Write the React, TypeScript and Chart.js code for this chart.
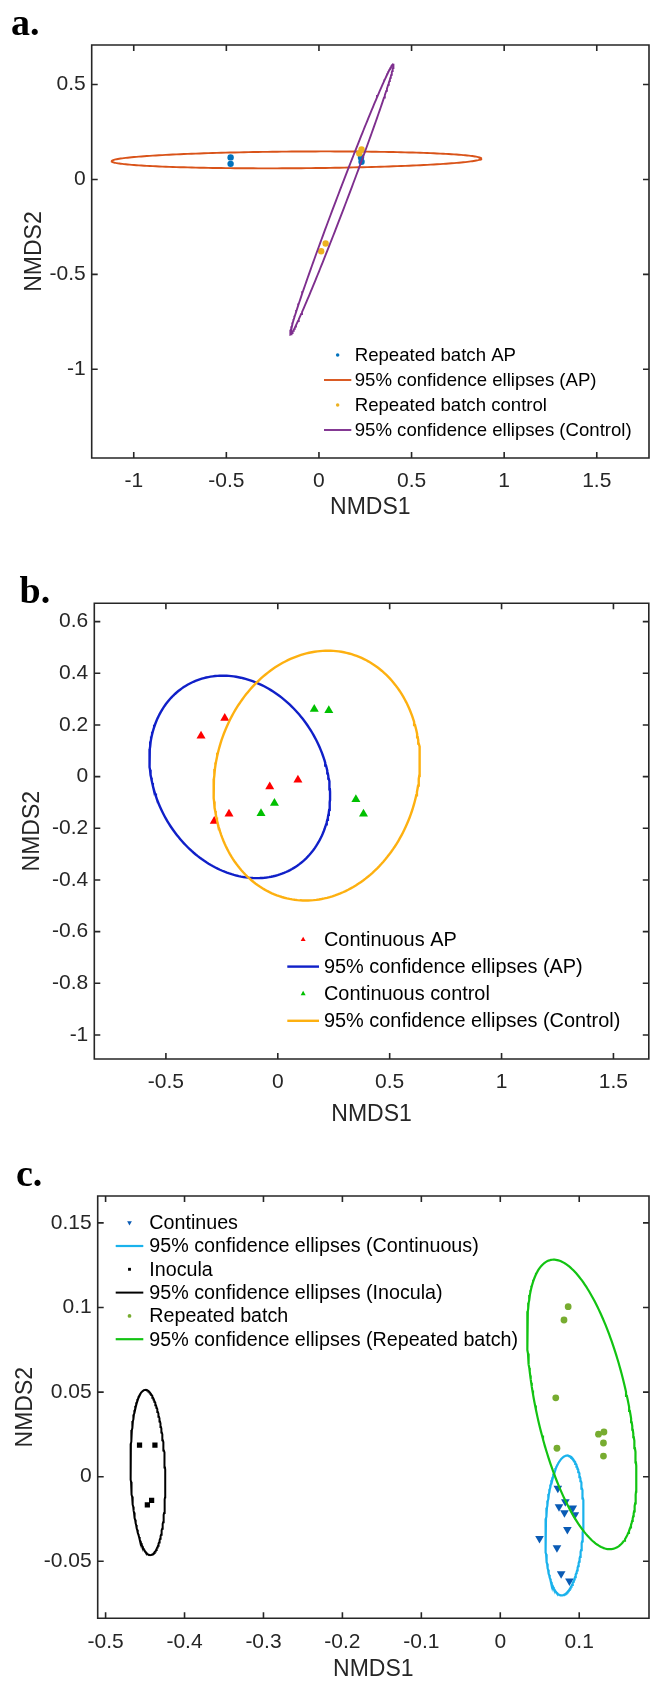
import React, { useEffect, useRef } from "react";
import { Chart, registerables } from "chart.js";

Chart.register(...registerables);

// ---------- Panel a: repeated batch ----------
const aApX = [-0.477, -0.477, 0.227, 0.23];
const aApY = [0.116, 0.082, 0.116, 0.093];
const aCtlX = [0.218, 0.23, 0.012, 0.036];
const aCtlY = [0.137, 0.158, -0.378, -0.337];
// ellipse: centre x, centre y, semi-major, semi-minor, angle (deg, data space)
const aApEllipse = [-0.1215, 0.103, 0.998, 0.044, 0.4];
const aCtlEllipse = [0.1235, -0.105, 0.766, 0.027, 68.7];
const aXTicks = [-1, -0.5, 0, 0.5, 1, 1.5];
const aYTicks = [-1, -0.5, 0, 0.5];
const aXRange = [-1.227, 1.782];
const aYRange = [-1.467, 0.708];
const aLabels = [
  "Repeated batch AP",
  "95% confidence ellipses (AP)",
  "Repeated batch control",
  "95% confidence ellipses (Control)",
];

// ---------- Panel b: continuous ----------
const bApX = [-0.237, -0.343, -0.036, 0.09, -0.218, -0.284];
const bApY = [0.226, 0.158, -0.039, -0.013, -0.144, -0.172];
const bCtlX = [0.163, 0.228, -0.015, -0.075, 0.349, 0.383];
const bCtlY = [0.261, 0.256, -0.103, -0.142, -0.088, -0.144];
const bApEllipse = [-0.17, -0.001, 0.434, 0.358, -40.5];
const bCtlEllipse = [0.174, 0.004, 0.4994, 0.4437, 56.9];
const bXTicks = [-0.5, 0, 0.5, 1, 1.5];
const bYTicks = [-1, -0.8, -0.6, -0.4, -0.2, 0, 0.2, 0.4, 0.6];
const bXRange = [-0.82, 1.658];
const bYRange = [-1.093, 0.671];
const bLabels = [
  "Continuous AP",
  "95% confidence ellipses (AP)",
  "Continuous control",
  "95% confidence ellipses (Control)",
];

// ---------- Panel c: all reactors ----------
const cContX = [0.0729, 0.0744, 0.0824, 0.0813, 0.0918, 0.0945, 0.085, 0.0497, 0.0718, 0.0771, 0.0876];
const cContY = [-0.0069, -0.0178, -0.0148, -0.0213, -0.0185, -0.0225, -0.0312, -0.0365, -0.042, -0.0573, -0.0617];
const cInocX = [-0.457, -0.4375, -0.4471, -0.4417];
const cInocY = [0.0187, 0.0187, -0.0167, -0.014];
const cRbX = [0.086, 0.0807, 0.0703, 0.0718, 0.1244, 0.1313, 0.1307, 0.1307];
const cRbY = [0.1005, 0.0926, 0.0466, 0.0168, 0.0251, 0.0264, 0.0199, 0.0122];
const cContEllipse = [0.0813, -0.0288, 0.04153, 0.02375, 82.7];
const cInocEllipse = [-0.4464, 0.0025, 0.04892, 0.02178, -85.5];
const cRbEllipse = [0.1032, 0.0427, 0.09668, 0.05255, -56.3];
const cXTicks = [-0.5, -0.4, -0.3, -0.2, -0.1, 0, 0.1];
const cYTicks = [-0.05, 0, 0.05, 0.1, 0.15];
const cXRange = [-0.51, 0.1884];
const cYRange = [-0.0837, 0.1659];
const cLabels = [
  "Continues",
  "95% confidence ellipses (Continuous)",
  "Inocula",
  "95% confidence ellipses (Inocula)",
  "Repeated batch",
  "95% confidence ellipses (Repeated batch)",
];

const SANS = '"Liberation Sans", Arial, Helvetica, sans-serif';
const SERIF = '"Liberation Serif", "Times New Roman", serif';
const AXIS_COLOR = "#262626";

function ellipsePoints(e: number[], n = 240) {
  const [cx, cy, a, b, deg] = e;
  const phi = (deg * Math.PI) / 180;
  const pts: { x: number; y: number }[] = [];
  for (let k = 0; k <= n; k++) {
    const t = (2 * Math.PI * k) / n;
    const ex = a * Math.cos(t);
    const ey = b * Math.sin(t);
    pts.push({
      x: cx + ex * Math.cos(phi) - ey * Math.sin(phi),
      y: cy + ex * Math.sin(phi) + ey * Math.cos(phi),
    });
  }
  return pts;
}

function pts(xs: number[], ys: number[]) {
  return xs.map((x, i) => ({ x, y: ys[i] }));
}

function markerSet(label: string, xs: number[], ys: number[], style: string, r: number, color: string, rot = 0) {
  return {
    label,
    data: pts(xs, ys),
    showLine: false,
    pointStyle: style,
    pointRadius: r,
    pointRotation: rot,
    pointBackgroundColor: color,
    pointBorderColor: color,
    pointBorderWidth: 0,
    backgroundColor: color,
    borderColor: color,
  };
}

function lineSet(label: string, e: number[], color: string, w: number) {
  return {
    label,
    data: ellipsePoints(e),
    showLine: true,
    pointRadius: 0,
    borderColor: color,
    backgroundColor: color,
    borderWidth: w,
    fill: false,
    tension: 0,
  };
}

const PANELS = [
  {
    canvasTop: 0,
    canvasH: 540,
    area: { l: 91.7, t: 45, r: 649, b: 458 },
    xScaleH: 70,
    xTitlePad: 11.1,
    yTitlePad: 25.1,
    xRange: aXRange,
    yRange: aYRange,
    xTicks: aXTicks,
    yTicks: aYTicks,
    letter: { text: "a.", x: 11, y: 35 },
    legend: { x0: 324, x1: 351.3, textX: 354.7, y0: 355, dy: 25, size: 18.6, mScale: 0.55 },
    datasets: [
      markerSet(aLabels[0], aApX, aApY, "circle", 3.2, "#0072BD"),
      lineSet(aLabels[1], aApEllipse, "#D95319", 1.9),
      markerSet(aLabels[2], aCtlX, aCtlY, "circle", 3.2, "#EDB120"),
      lineSet(aLabels[3], aCtlEllipse, "#7E2F8E", 1.9),
    ],
  },
  {
    canvasTop: 540,
    canvasH: 590,
    area: { l: 94.3, t: 63.3, r: 652.3, b: 519 },
    xScaleH: 70,
    xTitlePad: 4.8,
    yTitlePad: 23.5,
    xRange: bXRange,
    yRange: bYRange,
    xTicks: bXTicks,
    yTicks: bYTicks,
    letter: { text: "b.", x: 19.5, y: 63 },
    legend: { x0: 287.3, x1: 319, textX: 324, y0: 399.5, dy: 27.1, size: 19.9, mScale: 0.55 },
    datasets: [
      markerSet(bLabels[0], bApX, bApY, "triangle", 5.2, "#FF0000"),
      lineSet(bLabels[1], bApEllipse, "#1020C8", 2.4),
      markerSet(bLabels[2], bCtlX, bCtlY, "triangle", 5.2, "#00C000"),
      lineSet(bLabels[3], bCtlEllipse, "#FDB010", 2.4),
    ],
  },
  {
    canvasTop: 1130,
    canvasH: 551,
    area: { l: 97.7, t: 66, r: 652.3, b: 488.3 },
    xScaleH: 62.7,
    xTitlePad: 1.8,
    yTitlePad: 16,
    xRange: cXRange,
    yRange: cYRange,
    xTicks: cXTicks,
    yTicks: cYTicks,
    letter: { text: "c.", x: 16, y: 56 },
    legend: { x0: 115.7, x1: 143.3, textX: 149.3, y0: 92.7, dy: 23.3, size: 19.7, mScale: 0.55 },
    datasets: [
      markerSet(cLabels[0], cContX, cContY, "triangle", 5, "#0A5BB5", 180),
      lineSet(cLabels[1], cContEllipse, "#1AB2EC", 2.2),
      markerSet(cLabels[2], cInocX, cInocY, "rect", 3.7, "#000000"),
      lineSet(cLabels[3], cInocEllipse, "#000000", 2),
      markerSet(cLabels[4], cRbX, cRbY, "circle", 3.4, "#77AC30"),
      lineSet(cLabels[5], cRbEllipse, "#12C312", 2.2),
    ],
  },
];

function drawMarker(ctx: CanvasRenderingContext2D, style: string, x: number, y: number, r: number, rot: number) {
  ctx.beginPath();
  if (style === "circle") {
    ctx.arc(x, y, r, 0, Math.PI * 2);
  } else if (style === "rect") {
    const s = Math.SQRT1_2 * r;
    ctx.rect(x - s, y - s, 2 * s, 2 * s);
  } else {
    let a = (rot * Math.PI) / 180;
    ctx.moveTo(x + Math.sin(a) * r, y - Math.cos(a) * r);
    a += (2 * Math.PI) / 3;
    ctx.lineTo(x + Math.sin(a) * r, y - Math.cos(a) * r);
    a += (2 * Math.PI) / 3;
    ctx.lineTo(x + Math.sin(a) * r, y - Math.cos(a) * r);
    ctx.closePath();
  }
  ctx.fill();
}

const framePlugin = {
  id: "matlabFrame",
  afterDatasetsDraw(chart: any) {
    const { ctx, chartArea, scales } = chart;
    const { left, top, right, bottom } = chartArea;
    const xs = scales.x;
    const ys = scales.y;
    ctx.save();
    ctx.strokeStyle = AXIS_COLOR;
    ctx.lineWidth = 1.6;
    ctx.beginPath();
    ctx.rect(left, top, right - left, bottom - top);
    for (const t of xs.ticks) {
      const px = xs.getPixelForValue(t.value);
      ctx.moveTo(px, bottom);
      ctx.lineTo(px, bottom - 6);
      ctx.moveTo(px, top);
      ctx.lineTo(px, top + 6);
    }
    for (const t of ys.ticks) {
      const py = ys.getPixelForValue(t.value);
      ctx.moveTo(left, py);
      ctx.lineTo(left + 6, py);
      ctx.moveTo(right, py);
      ctx.lineTo(right - 6, py);
    }
    ctx.stroke();
    ctx.restore();
  },
};

const legendPlugin = {
  id: "nmdsLegend",
  afterDraw(chart: any, _args: any, opts: any) {
    const { ctx } = chart;
    const { x0, x1, textX, y0, dy, size, mScale } = opts;
    ctx.save();
    chart.data.datasets.forEach((ds: any, i: number) => {
      const y = y0 + i * dy;
      if (ds.showLine) {
        ctx.strokeStyle = ds.borderColor;
        ctx.lineWidth = ds.borderWidth;
        ctx.beginPath();
        ctx.moveTo(x0, y);
        ctx.lineTo(x1, y);
        ctx.stroke();
      } else {
        ctx.fillStyle = ds.pointBackgroundColor;
        drawMarker(ctx, ds.pointStyle, (x0 + x1) / 2, y, ds.pointRadius * mScale, ds.pointRotation || 0);
      }
      ctx.fillStyle = "#000";
      ctx.font = `${size}px ${SANS}`;
      ctx.textAlign = "left";
      ctx.textBaseline = "middle";
      ctx.fillText(ds.label, textX, y + 1);
    });
    ctx.restore();
  },
};

const letterPlugin = {
  id: "panelLetter",
  afterDraw(chart: any, _args: any, opts: any) {
    const { ctx } = chart;
    ctx.save();
    ctx.fillStyle = "#000";
    ctx.font = `bold 38px ${SERIF}`;
    ctx.textAlign = "left";
    ctx.textBaseline = "alphabetic";
    ctx.fillText(opts.text, opts.x, opts.y);
    ctx.restore();
  },
};

function makeChart(canvas: HTMLCanvasElement, p: any) {
  const xTicks = p.xTicks as number[];
  const yTicks = p.yTicks as number[];
  return new Chart(canvas, {
    type: "scatter",
    data: {
      datasets: p.datasets.map((d: any, i: number) => ({ ...d, order: -i })),
    },
    options: {
      animation: false,
      responsive: false,
      maintainAspectRatio: false,
      events: [],
      layout: {
        padding: {
          left: 0,
          top: p.area.t,
          right: 654 - p.area.r,
          bottom: p.canvasH - p.area.b - p.xScaleH,
        },
      },
      plugins: {
        legend: { display: false },
        tooltip: { enabled: false },
        nmdsLegend: p.legend,
        panelLetter: p.letter,
      } as any,
      scales: {
        x: {
          type: "linear",
          min: p.xRange[0],
          max: p.xRange[1],
          afterBuildTicks: (s: any) => {
            s.ticks = xTicks.map((v) => ({ value: v }));
          },
          afterFit: (s: any) => {
            s.height = p.xScaleH;
          },
          grid: { display: false, drawTicks: false },
          border: { display: false },
          ticks: {
            autoSkip: false,
            maxRotation: 0,
            padding: 11,
            color: AXIS_COLOR,
            font: { family: SANS, size: 21 },
            callback: (v: any) => String(v),
          },
          title: {
            display: true,
            text: "NMDS1",
            color: AXIS_COLOR,
            font: { family: SANS, size: 23, lineHeight: 0.8 },
            padding: { top: 0, bottom: p.xTitlePad },
          },
        },
        y: {
          type: "linear",
          min: p.yRange[0],
          max: p.yRange[1],
          afterBuildTicks: (s: any) => {
            s.ticks = yTicks.map((v) => ({ value: v }));
          },
          afterFit: (s: any) => {
            s.width = p.area.l;
          },
          grid: { display: false, drawTicks: false },
          border: { display: false },
          ticks: {
            autoSkip: false,
            padding: 6,
            color: AXIS_COLOR,
            font: { family: SANS, size: 21 },
            callback: (v: any) => String(v),
          },
          title: {
            display: true,
            text: "NMDS2",
            color: AXIS_COLOR,
            font: { family: SANS, size: 23, lineHeight: 0.8 },
            padding: { top: p.yTitlePad, bottom: 0 },
          },
        },
      },
    } as any,
    plugins: [framePlugin, legendPlugin, letterPlugin],
  });
}

export default function App() {
  const r0 = useRef<HTMLCanvasElement>(null);
  const r1 = useRef<HTMLCanvasElement>(null);
  const r2 = useRef<HTMLCanvasElement>(null);
  const refs = [r0, r1, r2];

  useEffect(() => {
    const charts = PANELS.map((p, i) => makeChart(refs[i].current as HTMLCanvasElement, p));
    return () => charts.forEach((c) => c.destroy());
  }, []);

  return (
    <div
      style={{
        position: "absolute",
        left: 0,
        top: 0,
        width: 654,
        height: 1681,
        background: "#ffffff",
        overflow: "hidden",
      }}
    >
      {PANELS.map((p, i) => (
        <canvas
          key={i}
          ref={refs[i]}
          width={654}
          height={p.canvasH}
          style={{ position: "absolute", left: 0, top: p.canvasTop, width: 654, height: p.canvasH }}
        />
      ))}
    </div>
  );
}
